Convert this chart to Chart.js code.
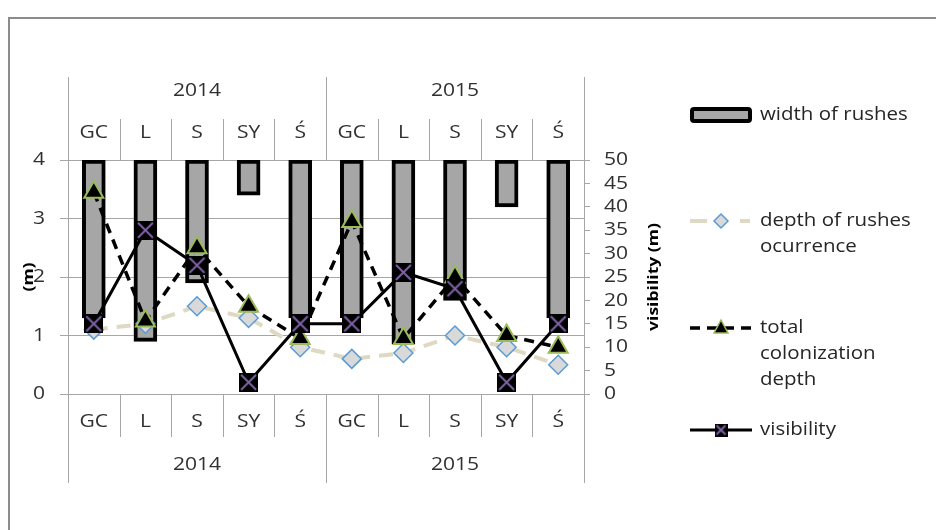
<!DOCTYPE html>
<html>
<head>
<meta charset="utf-8">
<script src="https://cdn.jsdelivr.net/npm/chart.js@4/dist/chart.umd.min.js"></script>
<style>
  html, body { margin: 0; padding: 0; background: #fff; }
  canvas { display: block; }
</style>
</head>
<body>
<canvas id="chart" width="936" height="530"></canvas>
<script>
// Sites and survey years
const sites = ['GC', 'L', 'S', 'SY', 'Ś'];
const years = ['2014', '2015'];

// Measurements per site, 2014 first then 2015
const widthOfRushes = [2.7, 3.1, 2.1, 0.6, 2.7, 2.7, 3.15, 2.4, 0.8, 2.7];
const depthOfOccurrence = [1.1, 1.2, 1.5, 1.3, 0.8, 0.6, 0.7, 1.0, 0.8, 0.5];
const colonizationDepth = [3.45, 1.25, 2.5, 1.5, 0.95, 2.95, 0.95, 2.0, 1.0, 0.8];
const visibility = [15, 35, 27.5, 2.5, 15, 15, 26, 22.5, 2.5, 15];

// Axis ticks
const depthTicks = [0, 1, 2, 3, 4];
const visibilityTicks = [0, 5, 10, 15, 20, 25, 30, 35, 40, 45, 50];

// Legend captions (wrapped)
const legendLines = [
  ['width of rushes'],
  ['depth of rushes', 'ocurrence'],
  ['total', 'colonization', 'depth'],
  ['visibility']
];

const labels = years.flatMap(() => sites);

const FONT = '"Open Sans", "Liberation Sans", sans-serif';
const STRETCH = 1.17;
const TEXT = '#303030';
const AXIS_LINE = '#A6A6A6';

function drawText(ctx, str, x, y, align, font, color, rotate) {
  ctx.save();
  ctx.translate(x, y);
  if (rotate) ctx.rotate(rotate);
  ctx.scale(STRETCH, 1);
  ctx.font = font;
  ctx.fillStyle = color;
  ctx.textAlign = align;
  ctx.textBaseline = 'middle';
  ctx.fillText(str, 0, 0);
  ctx.restore();
}

// Black square with a purple cross, used as the visibility marker
function boxCross(size) {
  const c = document.createElement('canvas');
  c.width = size; c.height = size;
  const g = c.getContext('2d');
  g.fillStyle = '#000';
  g.fillRect(0, 0, size, size);
  g.strokeStyle = '#7F63A6';
  g.lineWidth = 2;
  g.beginPath();
  g.moveTo(2, 2); g.lineTo(size - 2, size - 2);
  g.moveTo(size - 2, 2); g.lineTo(2, size - 2);
  g.stroke();
  return c;
}

function vline(ctx, x, y1, y2) {
  const px = Math.round(x) + 0.5;
  ctx.beginPath();
  ctx.moveTo(px, y1);
  ctx.lineTo(px, y2);
  ctx.stroke();
}

const decorations = {
  id: 'decorations',
  afterDraw(chart) {
    const ctx = chart.ctx;
    const area = chart.chartArea;
    const xs = chart.scales.x;
    const yL = chart.scales.y;
    const yR = chart.scales.y2;
    const n = labels.length;
    const per = sites.length;

    // Outer frame
    ctx.save();
    ctx.strokeStyle = '#8C8C8C';
    ctx.lineWidth = 2;
    ctx.beginPath();
    ctx.moveTo(9, 530);
    ctx.lineTo(9, 18);
    ctx.lineTo(936, 18);
    ctx.stroke();
    ctx.restore();

    // Grouped category axes above and below the plot
    const edges = [area.left];
    for (let i = 0; i < n - 1; i++) {
      edges.push((xs.getPixelForValue(i) + xs.getPixelForValue(i + 1)) / 2);
    }
    edges.push(area.right);

    ctx.save();
    ctx.strokeStyle = AXIS_LINE;
    ctx.lineWidth = 1;
    edges.forEach((x, k) => {
      if (k === 0 || k === n) {
        vline(ctx, x, 77, 483);
      } else if (k % per === 0) {
        vline(ctx, x, 77, area.top);
        vline(ctx, x, area.bottom, 483);
      } else {
        vline(ctx, x, 119, area.top);
        vline(ctx, x, area.bottom, 437);
      }
    });
    ctx.restore();

    const labelFont = '18px ' + FONT;
    labels.forEach((lab, i) => {
      const x = xs.getPixelForValue(i);
      drawText(ctx, lab, x, 133, 'center', labelFont, TEXT);
      drawText(ctx, lab, x, 422, 'center', labelFont, TEXT);
    });
    years.forEach((yr, g) => {
      const x = (edges[g * per] + edges[(g + 1) * per]) / 2;
      drawText(ctx, yr, x, 91, 'center', labelFont, TEXT);
      drawText(ctx, yr, x, 465, 'center', labelFont, TEXT);
    });

    // Value axes
    depthTicks.forEach(v => {
      drawText(ctx, String(v), 45, yL.getPixelForValue(v), 'right', labelFont, TEXT);
    });
    visibilityTicks.forEach(v => {
      drawText(ctx, String(v), 604, yR.getPixelForValue(v), 'left', labelFont, TEXT);
    });
    const titleFont = 'bold 15px ' + FONT;
    drawText(ctx, '(m)', 29, (area.top + area.bottom) / 2, 'center', titleFont, '#000', -Math.PI / 2);
    drawText(ctx, 'visibility (m)', 654, (area.top + area.bottom) / 2, 'center', titleFont, '#000', -Math.PI / 2);

    // Legend
    const ds = chart.data.datasets;
    const rowY = [115, 221, 328, 430];
    const sx1 = 690, sx2 = 752, sxm = 721;

    // width of rushes swatch
    ctx.save();
    ctx.fillStyle = ds[0].backgroundColor;
    ctx.strokeStyle = ds[0].borderColor;
    ctx.lineWidth = 4;
    ctx.beginPath();
    ctx.roundRect(sx1 + 2, rowY[0] - 6, sx2 - sx1 - 4, 12, 2);
    ctx.fill();
    ctx.stroke();
    ctx.restore();

    // depth of rushes occurrence
    ctx.save();
    ctx.strokeStyle = ds[1].borderColor;
    ctx.lineWidth = ds[1].borderWidth;
    ctx.beginPath();
    ctx.moveTo(sx1, rowY[1]); ctx.lineTo(sx1 + 17, rowY[1]);
    ctx.moveTo(sx2 - 12, rowY[1]); ctx.lineTo(sx2 - 2, rowY[1]);
    ctx.stroke();
    ctx.fillStyle = ds[1].pointBackgroundColor;
    ctx.strokeStyle = ds[1].pointBorderColor;
    ctx.lineWidth = 1.5;
    ctx.beginPath();
    ctx.moveTo(sxm, rowY[1] - 7);
    ctx.lineTo(sxm + 7, rowY[1]);
    ctx.lineTo(sxm, rowY[1] + 7);
    ctx.lineTo(sxm - 7, rowY[1]);
    ctx.closePath();
    ctx.fill(); ctx.stroke();
    ctx.restore();

    // total colonization depth
    ctx.save();
    ctx.strokeStyle = ds[2].borderColor;
    ctx.lineWidth = ds[2].borderWidth;
    ctx.setLineDash(ds[2].borderDash);
    ctx.beginPath();
    ctx.moveTo(sx1, rowY[2]); ctx.lineTo(sx2, rowY[2]);
    ctx.stroke();
    ctx.setLineDash([]);
    ctx.fillStyle = ds[2].pointBackgroundColor;
    ctx.strokeStyle = ds[2].pointBorderColor;
    ctx.lineWidth = 1.5;
    ctx.beginPath();
    ctx.moveTo(sxm, rowY[2] - 8);
    ctx.lineTo(sxm + 7, rowY[2] + 5);
    ctx.lineTo(sxm - 7, rowY[2] + 5);
    ctx.closePath();
    ctx.fill(); ctx.stroke();
    ctx.restore();

    // visibility
    ctx.save();
    ctx.strokeStyle = ds[3].borderColor;
    ctx.lineWidth = ds[3].borderWidth;
    ctx.beginPath();
    ctx.moveTo(sx1, rowY[3]); ctx.lineTo(sx2, rowY[3]);
    ctx.stroke();
    const mk = boxCross(13);
    ctx.drawImage(mk, sxm - 6.5, rowY[3] - 6.5);
    ctx.restore();

    const legendFont = '17.5px ' + FONT;
    legendLines.forEach((lines, i) => {
      lines.forEach((ln, j) => {
        drawText(ctx, ln, 760, rowY[i] + j * 26, 'left', legendFont, '#262626');
      });
    });
  }
};

new Chart(document.getElementById('chart'), {
  data: {
    labels: labels,
    datasets: [
      {
        type: 'bar',
        label: 'width of rushes',
        data: widthOfRushes,
        yAxisID: 'yW',
        backgroundColor: '#A6A6A6',
        borderColor: '#000000',
        borderWidth: 4,
        borderSkipped: false,
        barThickness: 23,
        order: 4
      },
      {
        type: 'line',
        label: 'depth of rushes ocurrence',
        data: depthOfOccurrence,
        yAxisID: 'y',
        borderColor: '#DDD9C3',
        borderWidth: 4,
        borderDash: [14, 9],
        pointStyle: 'rectRot',
        pointRadius: 9.5,
        pointBackgroundColor: '#D9D9D9',
        pointBorderColor: '#5B9BD5',
        pointBorderWidth: 1.5,
        tension: 0,
        order: 3
      },
      {
        type: 'line',
        label: 'total colonization depth',
        data: colonizationDepth,
        yAxisID: 'y',
        borderColor: '#000000',
        borderWidth: 3.5,
        borderDash: [10, 7],
        pointStyle: 'triangle',
        pointRadius: 11,
        pointBackgroundColor: '#000000',
        pointBorderColor: '#9BBB59',
        pointBorderWidth: 2,
        tension: 0,
        order: 2
      },
      {
        type: 'line',
        label: 'visibility',
        data: visibility,
        yAxisID: 'y2',
        borderColor: '#000000',
        borderWidth: 3,
        pointStyle: boxCross(19),
        pointRadius: 10,
        tension: 0,
        order: 1
      }
    ]
  },
  options: {
    responsive: false,
    animation: false,
    layout: { padding: { left: 0, right: 292, top: 160, bottom: 136 } },
    plugins: { legend: { display: false }, tooltip: { enabled: false } },
    scales: {
      x: { display: false, offset: true },
      y: {
        position: 'left',
        min: 0, max: 4,
        ticks: { stepSize: 1, display: false },
        grid: { color: AXIS_LINE, lineWidth: 1, tickLength: 8, drawTicks: true },
        border: { display: false },
        afterFit(s) { s.width = 68; }
      },
      y2: {
        position: 'right',
        min: 0, max: 50,
        ticks: { stepSize: 5, display: false },
        grid: { drawOnChartArea: false, color: AXIS_LINE, tickLength: 6, drawTicks: true },
        border: { display: false },
        afterFit(s) { s.width = 60; }
      },
      yW: { display: false, min: 0, max: 4, reverse: true }
    }
  },
  plugins: [decorations]
});
</script>
</body>
</html>
